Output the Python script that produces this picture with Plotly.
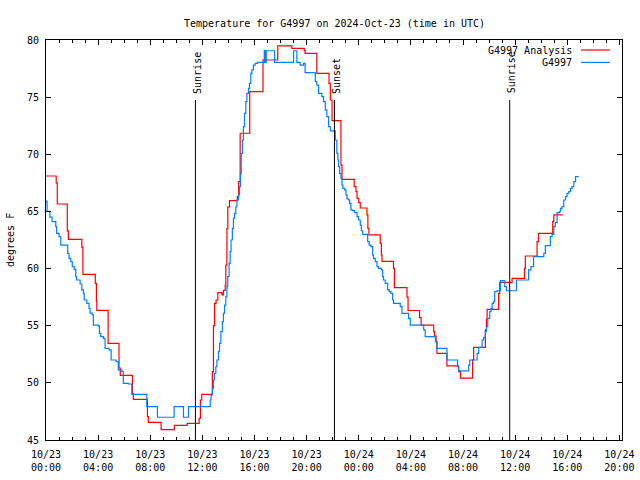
import plotly.graph_objects as go

# ---- data (minutes since 2024-10-23 00:00 UTC) ----
analysis_min = [0, 47, 52, 98, 103, 165, 170, 227, 232, 234, 286, 336, 342, 398, 402,
                467, 471, 530, 591, 650, 705, 711, 717, 766, 771, 776, 783, 791, 810,
                817, 825, 828, 833, 837, 845, 881, 887, 894, 938, 999, 1067, 1132, 1189,
                1193, 1247, 1303, 1309, 1317, 1358, 1363, 1419, 1427, 1432, 1440, 1447,
                1478, 1482, 1487, 1539, 1544, 1547, 1600, 1604, 1662, 1667, 1720, 1727,
                1785, 1789, 1796, 1800, 1846, 1900, 1908, 1964, 1969, 2023, 2028, 2031,
                2084, 2089, 2146, 2203, 2207, 2261, 2267, 2333, 2338, 2379]
analysis_temp = [68.1, 67.5, 65.65, 63.3, 62.56, 61.86, 59.5, 58.7, 57.16, 56.35, 53.46,
                 51.3, 50.66, 49.08, 48.56, 47.04, 46.55, 45.9, 46.28, 46.46, 46.9, 48.5,
                 49.0, 50.98, 55.0, 56.96, 57.25, 57.89, 57.7, 58.1, 58.56, 60.3, 63.5,
                 65.4, 65.95, 66.3, 67.6, 71.84, 75.48, 78.25, 79.48, 79.27, 79.07, 78.83,
                 77.08, 76.2, 74.75, 72.94, 69.06, 67.81, 67.17, 66.73, 66.15, 65.77, 65.3,
                 64.69, 63.52, 62.94, 62.2, 61.19, 60.63, 60.02, 58.33, 57.5, 56.33, 55.7,
                 55.05, 54.48, 54.1, 53.6, 52.58, 51.48, 50.98, 50.42, 52.0, 53.11, 54.63,
                 55.56, 56.43, 57.83, 58.8, 59.15, 60.02, 61.1, 62.35, 63.08, 64.1, 64.69,
                 64.69]

obs_min = [0, 5, 18, 28, 45, 49, 60, 68, 100, 106, 114, 121, 130, 137, 141, 157, 165,
           172, 176, 188, 198, 203, 213, 218, 241, 246, 252, 264, 272, 290, 300, 323,
           333, 349, 356, 379, 395, 464, 513, 590, 633, 656, 756, 760, 766, 771, 776,
           782, 787, 794, 799, 805, 812, 817, 822, 828, 833, 837, 843, 848, 852, 858,
           863, 868, 874, 879, 886, 891, 895, 899, 905, 909, 914, 920, 925, 932, 937,
           943, 948, 955, 963, 974, 1005, 1009, 1014, 1052, 1140, 1155, 1170, 1186,
           1193, 1240, 1247, 1255, 1270, 1278, 1286, 1293, 1301, 1309, 1332, 1339, 1344,
           1347, 1352, 1358, 1363, 1367, 1375, 1381, 1386, 1393, 1398, 1404, 1411, 1421,
           1432, 1439, 1447, 1452, 1458, 1481, 1488, 1496, 1504, 1508, 1516, 1524, 1531,
           1544, 1550, 1554, 1562, 1573, 1581, 1588, 1596, 1600, 1631, 1639, 1669, 1677,
           1739, 1746, 1793, 1800, 1846, 1895, 1900, 1946, 1951, 1985, 1992, 2008, 2015,
           2023, 2028, 2034, 2043, 2049, 2054, 2061, 2066, 2077, 2092, 2112, 2120, 2166,
           2222, 2233, 2245, 2292, 2299, 2322, 2330, 2338, 2345, 2353, 2364, 2369, 2376,
           2384, 2392, 2399, 2407, 2415, 2422, 2430, 2438, 2450]
obs_temp = [65.9, 65.0, 64.5, 64.1, 63.67, 63.08, 62.8, 62.06, 61.33, 60.9, 60.6, 60.17,
            59.93, 59.29, 59.0, 58.65, 58.13, 57.83, 57.25, 56.96, 56.52, 56.1, 55.94,
            55.06, 54.97, 54.33, 54.04, 53.9, 53.02, 52.88, 52.0, 51.85, 51.13, 50.98,
            49.96, 49.9, 49.0, 47.92, 46.99, 47.92, 46.99, 47.92, 48.5, 48.94, 49.52,
            50.25, 50.83, 51.41, 52.0, 52.73, 53.46, 54.48, 55.35, 56.08, 56.81, 57.54,
            58.42, 59.29, 60.46, 61.48, 62.5, 63.52, 64.4, 64.83, 65.41, 66.0, 66.44,
            67.17, 68.3, 70.08, 71.25, 72.42, 73.58, 74.6, 75.33, 75.77, 76.2, 77.08,
            77.38, 77.8, 77.96, 78.05, 79.1, 78.05, 79.06, 78.05, 79.06, 78.05, 77.8,
            77.96, 77.14, 76.35, 76.06, 75.33, 75.04, 74.6, 73.88, 73.3, 72.42, 72.04,
            71.25, 70.08, 69.5, 68.92, 68.33, 67.9, 67.31, 67.02, 66.88, 66.44, 66.09,
            66.0, 65.71, 65.13, 65.07, 64.9, 64.54, 64.25, 63.81, 63.31, 63.0, 62.35,
            62.06, 61.92, 61.19, 60.9, 60.6, 60.17, 60.02, 59.88, 59.29, 59.0, 58.71,
            58.13, 57.98, 57.83, 57.25, 56.96, 56.67, 56.08, 55.65, 55.06, 54.63, 54.04,
            53.6, 53.02, 52.0, 51.42, 51.04, 51.56, 52.0, 52.58, 53.11, 53.75, 53.98,
            54.48, 54.92, 55.65, 56.23, 56.52, 56.96, 57.1, 57.98, 58.06, 58.94, 58.42,
            58.06, 59.0, 59.88, 60.17, 61.04, 61.33, 62.0, 62.8, 63.0, 63.67, 64.02,
            64.9, 64.98, 65.27, 65.42, 66.0, 66.29, 66.58, 66.73, 67.02, 67.17, 67.6,
            68.04, 68.1]

event_names = ["Sunrise", "Sunset", "Sunrise"]
event_min = [688, 1328, 2135]

tick_min = [0, 240, 480, 720, 960, 1200, 1440, 1680, 1920, 2160, 2400, 2640]
tick_labels = ["10/23<br>00:00", "10/23<br>04:00", "10/23<br>08:00", "10/23<br>12:00",
               "10/23<br>16:00", "10/23<br>20:00", "10/24<br>00:00", "10/24<br>04:00",
               "10/24<br>08:00", "10/24<br>12:00", "10/24<br>16:00", "10/24<br>20:00"]

series_names = ["G4997 Analysis", "G4997"]
series_colors = ["#ff0000", "#0080ff"]

FONT = "DejaVu Sans Mono"

fig = go.Figure()
fig.add_trace(go.Scatter(x=analysis_min, y=analysis_temp, mode="lines",
                         line=dict(color=series_colors[0], width=1.2, shape="hv"),
                         name=series_names[0], showlegend=False))
fig.add_trace(go.Scatter(x=obs_min, y=obs_temp, mode="lines",
                         line=dict(color=series_colors[1], width=1.2, shape="hv"),
                         name=series_names[1], showlegend=False))

# event lines and labels
for name, t in zip(event_names, event_min):
    fig.add_shape(type="line", xref="x", yref="y", x0=t, x1=t, y0=45, y1=74.75,
                  line=dict(color="black", width=1))
    fig.add_annotation(x=t, y=75.14, xref="x", yref="y", text=name, textangle=-90,
                       showarrow=False, xanchor="center", yanchor="bottom", xshift=2,
                       font=dict(family=FONT, size=10, color="black"))

# manual gnuplot-style key (text then line sample)
key_y = [0.975, 0.944]
for name, col, ky in zip(series_names, series_colors, key_y):
    fig.add_annotation(x=0.9167, y=ky, xref="paper", yref="paper", text=name,
                       showarrow=False, xanchor="right", yanchor="middle",
                       font=dict(family=FONT, size=10, color="black"))
    fig.add_shape(type="line", xref="paper", yref="paper", x0=0.9288, x1=0.979,
                  y0=ky, y1=ky, line=dict(color=col, width=1.2))

fig.add_annotation(x=0.5, y=1.04, xref="paper", yref="paper",
                   text="Temperature for G4997 on 2024-Oct-23 (time in UTC)",
                   showarrow=False, xanchor="center", yanchor="middle",
                   font=dict(family=FONT, size=10, color="black"))
fig.add_annotation(x=-0.0625, y=0.5, xref="paper", yref="paper", text="degrees F",
                   textangle=-90, showarrow=False, xanchor="center", yanchor="middle",
                   font=dict(family=FONT, size=10, color="black"))

fig.update_xaxes(range=[0, 2652], tickmode="array", tickvals=tick_min, ticktext=tick_labels,
                 showline=True, linecolor="black", linewidth=1, mirror="ticks",
                 ticks="inside", ticklen=5, tickcolor="black", showgrid=False, zeroline=False,
                 automargin=False, ticklabelstandoff=5,
                 minor=dict(tick0=0, dtick=60, ticks="inside", ticklen=3, tickcolor="black",
                            showgrid=False),
                 tickfont=dict(family=FONT, size=10, color="black"))
fig.update_yaxes(range=[45, 80], tickmode="linear", tick0=45, dtick=5,
                 showline=True, linecolor="black", linewidth=1, mirror="ticks",
                 ticks="inside", ticklen=5, tickcolor="black", showgrid=False, zeroline=False,
                 automargin=False, ticklabelstandoff=4,
                 tickfont=dict(family=FONT, size=10, color="black"))

fig.update_layout(width=640, height=480, margin=dict(l=46, r=18, t=40, b=40),
                  paper_bgcolor="white", plot_bgcolor="white", showlegend=False,
                  font=dict(family=FONT, size=10, color="black"))

fig.write_html("out.html", config={"displayModeBar": False},
               post_script="document.body.style.margin='0';document.body.style.overflow='hidden';")
